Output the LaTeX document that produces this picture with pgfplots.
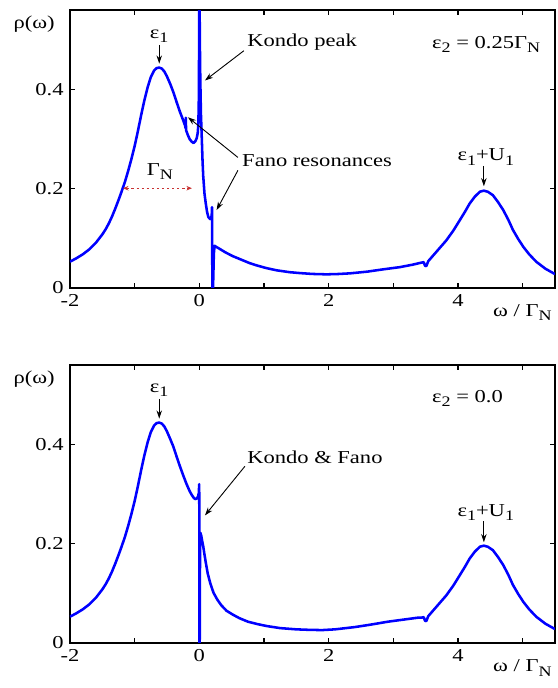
\documentclass[border=0pt]{standalone}
\usepackage{fontspec}
\setmainfont{Liberation Serif}[FakeStretch=1.24]
\usepackage{pgfplots}
\usepackage{pgfplotstable}
\pgfplotsset{compat=1.18}
\usetikzlibrary{arrows.meta}

\newcommand{\sub}[1]{\raisebox{-0.5ex}{\footnotesize #1}}

% spectral function, eps2 = 0.25 Gamma_N
\pgfplotstableread{
x y
-2.00 0.053
-1.90 0.060
-1.80 0.068
-1.70 0.078
-1.60 0.091
-1.50 0.108
-1.45 0.118
-1.40 0.130
-1.35 0.144
-1.30 0.160
-1.25 0.177
-1.20 0.195
-1.15 0.214
-1.10 0.236
-1.05 0.260
-1.00 0.286
-0.95 0.316
-0.90 0.348
-0.85 0.378
-0.80 0.404
-0.75 0.425
-0.70 0.438
-0.66 0.443
-0.62 0.444
-0.58 0.442
-0.54 0.436
-0.50 0.426
-0.45 0.411
-0.40 0.394
-0.35 0.374
-0.30 0.355
-0.25 0.338
-0.22 0.327
-0.213 0.322
-0.209 0.343
-0.205 0.318
-0.18 0.309
-0.15 0.300
-0.12 0.295
-0.09 0.292
-0.06 0.296
-0.04 0.302
-0.025 0.312
-0.015 0.330
-0.008 0.38
-0.003 0.50
0.000 0.62
0.002 0.62
0.008 0.50
0.015 0.42
0.025 0.35
0.036 0.31
0.05 0.255
0.06 0.226
0.08 0.19
0.10 0.17
0.12 0.153
0.14 0.143
0.165 0.139
0.185 0.142
0.192 0.148
0.196 0.163
0.200 0.05
0.203 0.000
0.212 0.000
0.225 0.070
0.236 0.085
0.26 0.083
0.30 0.080
0.40 0.072
0.52 0.064
0.65 0.057
0.78 0.050
0.90 0.045
1.04 0.040
1.20 0.0355
1.40 0.0318
1.56 0.030
1.75 0.0283
1.97 0.0275
2.15 0.0282
2.33 0.0295
2.60 0.033
2.84 0.0375
3.10 0.042
3.30 0.047
3.43 0.051
3.47 0.052
3.49 0.045
3.51 0.044
3.54 0.054
3.60 0.063
3.70 0.078
3.82 0.096
3.93 0.116
4.03 0.137
4.11 0.154
4.18 0.170
4.26 0.184
4.34 0.194
4.40 0.196
4.46 0.194
4.54 0.187
4.62 0.173
4.70 0.157
4.78 0.137
4.85 0.117
4.93 0.099
5.01 0.083
5.10 0.068
5.21 0.053
5.35 0.039
5.50 0.028
}\topdata

% spectral function, eps2 = 0
\pgfplotstableread{
x y
-2.00 0.053
-1.90 0.060
-1.80 0.068
-1.70 0.078
-1.60 0.091
-1.50 0.108
-1.45 0.118
-1.40 0.130
-1.35 0.144
-1.30 0.160
-1.25 0.177
-1.20 0.195
-1.15 0.214
-1.10 0.236
-1.05 0.260
-1.00 0.286
-0.95 0.316
-0.90 0.348
-0.85 0.378
-0.80 0.404
-0.75 0.425
-0.70 0.438
-0.66 0.443
-0.62 0.444
-0.58 0.442
-0.54 0.436
-0.50 0.426
-0.45 0.411
-0.40 0.395
-0.35 0.375
-0.30 0.356
-0.25 0.338
-0.20 0.321
-0.15 0.306
-0.12 0.299
-0.09 0.293
-0.065 0.290
-0.04 0.291
-0.02 0.295
-0.008 0.302
-0.002 0.320
0.000 0.25
0.001 0.000
0.006 0.000
0.010 0.15
0.016 0.222
0.030 0.216
0.045 0.205
0.06 0.195
0.08 0.178
0.10 0.162
0.13 0.140
0.17 0.120
0.22 0.101
0.28 0.087
0.34 0.076
0.42 0.065
0.52 0.057
0.62 0.050
0.75 0.043
0.90 0.038
1.05 0.034
1.25 0.030
1.50 0.0275
1.70 0.0265
1.90 0.026
2.10 0.0275
2.40 0.032
2.65 0.037
2.92 0.043
3.15 0.047
3.38 0.051
3.43 0.051
3.47 0.052
3.49 0.045
3.51 0.044
3.54 0.054
3.60 0.063
3.70 0.078
3.82 0.096
3.93 0.116
4.03 0.137
4.11 0.154
4.18 0.170
4.26 0.184
4.34 0.194
4.40 0.196
4.46 0.194
4.54 0.187
4.62 0.173
4.70 0.157
4.78 0.137
4.85 0.117
4.93 0.099
5.01 0.083
5.10 0.068
5.21 0.053
5.35 0.039
5.50 0.028
}\botdata

\pgfplotsset{
  dospanel/.style={
    scale only axis, width=266.75pt, height=152.9pt,
    anchor=north west,
    xmin=-2, xmax=5.5, ymin=0, ymax=0.56,
    xtick={-2,-1,...,5}, xticklabels={-2,,0,,2,,4,},
    ytick={0,0.2,0.4}, yticklabels={0,0.2,0.4},
    tick align=inside, major tick length=2.75pt,
    tick style={black, line width=0.6pt},
    axis line style={line width=0.8pt},
    /pgf/number format/assume math mode=true,
    tick label style={font=\fontsize{10}{12}\selectfont},
  },
  dosline/.style={blue, line width=1.4pt, line join=round, no markers},
}
\tikzset{
  ann/.style={-{Stealth[length=4.5pt,width=3pt]}, line width=0.5pt, black},
}

\begin{document}
\begin{tikzpicture}[font=\fontsize{10}{12}\selectfont]
\begin{axis}[dospanel, name=top, at={(0,0)}]
\addplot[dosline] table[x=x, y=y] {\topdata};
\node[anchor=south, inner sep=0pt] at (axis cs:-0.62,0.494) {ε\sub{1}};
\draw[ann] (axis cs:-0.62,0.490) -- (axis cs:-0.62,0.452);
\node[anchor=base west, inner sep=0pt] at (axis cs:0.736,0.486) {Kondo peak};
\draw[ann] (axis cs:0.689,0.478) -- (axis cs:0.087,0.418);
\node[anchor=base west, inner sep=0pt] at (axis cs:0.658,0.245) {Fano resonances};
\draw[ann] (axis cs:0.597,0.263) -- (axis cs:-0.176,0.344);
\draw[ann] (axis cs:0.597,0.237) -- (axis cs:0.267,0.157);
\node[anchor=base, inner sep=0pt] at (axis cs:-0.61,0.227) {Γ\sub{N}};
\draw[{Stealth[length=3pt,width=2.5pt]}-{Stealth[length=3pt,width=2.5pt]}, color={rgb,255:red,200;green,50;blue,50}, line width=0.5pt, dash pattern=on 1.2pt off 1.6pt]
  (axis cs:-1.18,0.201) -- (axis cs:-0.115,0.201);
\node[anchor=base west, inner sep=0pt] at (axis cs:3.595,0.482) {ε\sub{2} = 0.25Γ\sub{N}};
\node[anchor=base, inner sep=0pt] at (axis cs:4.43,0.256) {ε\sub{1}+U\sub{1}};
\draw[ann] (axis cs:4.40,0.246) -- (axis cs:4.40,0.205);
\end{axis}
\node[anchor=base east, inner sep=0pt] at ([xshift=-8.25pt, yshift=-10.2pt]top.north west) {ρ(ω)};
\node[anchor=base east, inner sep=0pt] at ([xshift=-1.65pt, yshift=-15.6pt]top.south east) {ω / Γ\sub{N}};

\begin{axis}[dospanel, name=bot, at={(0,-195.25pt)}]
\addplot[dosline] table[x=x, y=y] {\botdata};
\node[anchor=south, inner sep=0pt] at (axis cs:-0.62,0.496) {ε\sub{1}};
\draw[ann] (axis cs:-0.62,0.492) -- (axis cs:-0.62,0.452);
\node[anchor=base west, inner sep=0pt] at (axis cs:0.736,0.362) {Kondo \& Fano};
\draw[ann] (axis cs:0.705,0.356) -- (axis cs:0.087,0.257);
\node[anchor=base west, inner sep=0pt] at (axis cs:3.595,0.484) {ε\sub{2} = 0.0};
\node[anchor=base, inner sep=0pt] at (axis cs:4.43,0.255) {ε\sub{1}+U\sub{1}};
\draw[ann] (axis cs:4.40,0.245) -- (axis cs:4.40,0.203);
\end{axis}
\node[anchor=base east, inner sep=0pt] at ([xshift=-8.25pt, yshift=-10.2pt]bot.north west) {ρ(ω)};
\node[anchor=base east, inner sep=0pt] at ([xshift=-1.65pt, yshift=-15.9pt]bot.south east) {ω / Γ\sub{N}};

\pgfresetboundingbox
\path[use as bounding box] (-38.5pt,5.5pt) rectangle (267.85pt,-372.9pt);
\end{tikzpicture}
\end{document}
